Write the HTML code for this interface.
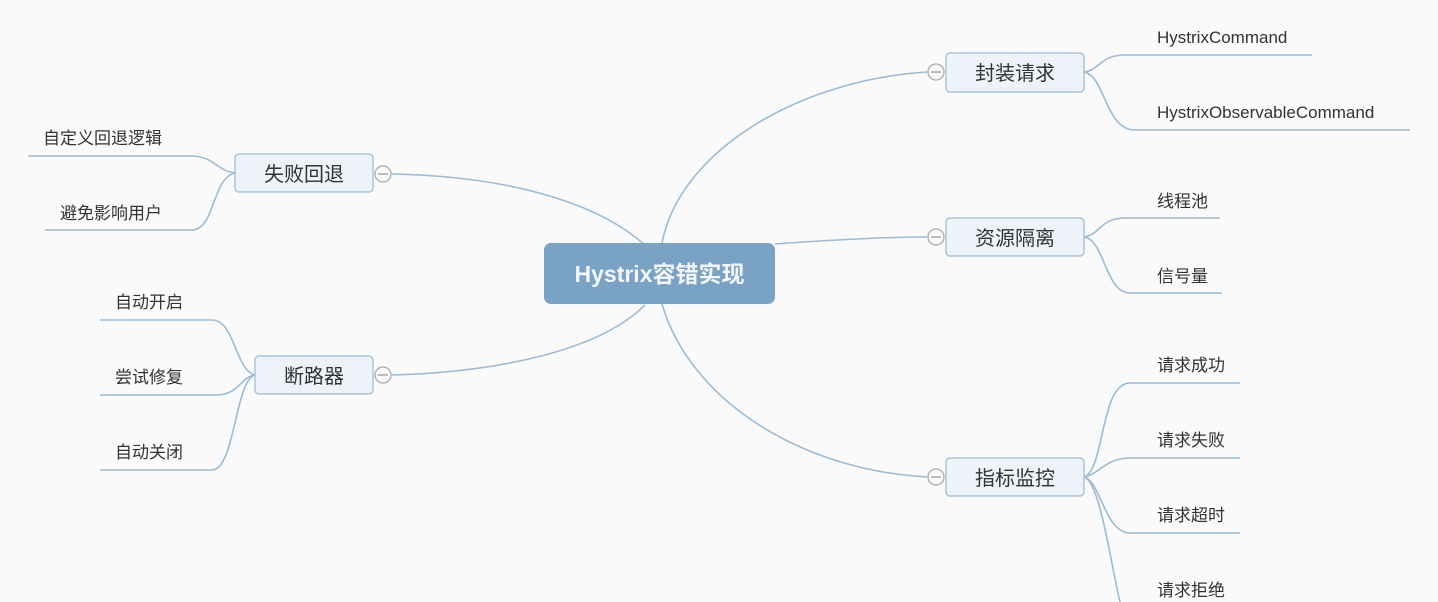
<!DOCTYPE html>
<html><head><meta charset="utf-8"><style>
html,body{margin:0;padding:0;background:#fafafa;}
svg{display:block}
text{font-family:"Liberation Sans","Noto Sans CJK SC",sans-serif;fill:#333}
</style></head><body>
<svg width="1438" height="602" viewBox="0 0 1438 602" xmlns="http://www.w3.org/2000/svg">
<rect width="1438" height="602" fill="#fafafa"/>
<g fill="none" stroke="#9bbbd6" stroke-width="1.6">
<path d="M662 243 C 680 150, 800 80, 927 72"/>
<path d="M775 244 C 830 240, 880 237, 927 237"/>
<path d="M662 304 C 690 400, 800 470, 927 477"/>
<path d="M650 250 C 600 200, 500 176, 392 174"/>
<path d="M645 305 C 600 350, 500 372, 392 375"/>
<path d="M1084 72 C 1100 70, 1100 55, 1125 55 L1312 55"/>
<path d="M1084 72 C 1105 75, 1105 130, 1135 130 L1410 130"/>
<path d="M1084 237 C 1100 235, 1100 218, 1125 218 L1220 218"/>
<path d="M1084 237 C 1105 240, 1105 293, 1130 293 L1222 293"/>
<path d="M1084 477 C 1105 470, 1100 383, 1130 383 L1240 383"/>
<path d="M1084 477 C 1100 474, 1105 458, 1130 458 L1240 458"/>
<path d="M1084 477 C 1100 480, 1105 533, 1130 533 L1240 533"/>
<path d="M1084 477 C 1100 482, 1110 560, 1120 602"/>
<path d="M235 173 C 215 170, 215 156, 190 156 L28 156"/>
<path d="M235 173 C 212 178, 215 230, 192 230 L45 230"/>
<path d="M255 375 C 235 370, 235 320, 212 320 L100 320"/>
<path d="M255 375 C 240 377, 240 395, 215 395 L100 395"/>
<path d="M255 375 C 235 380, 235 470, 212 470 L100 470"/>
</g>
<rect x="544" y="243" width="231" height="61" rx="7" fill="#7aa2c5"/>
<text x="659.5" y="282" font-size="23" font-weight="bold" text-anchor="middle" style="fill:#f2f6fa">Hystrix容错实现</text>
<g fill="#eef3f9" stroke="#a9c4dc" stroke-width="1.5">
<rect x="946" y="53" width="138" height="39" rx="4"/>
<rect x="946" y="218" width="138" height="38" rx="4"/>
<rect x="946" y="458" width="138" height="38" rx="4"/>
<rect x="235" y="154" width="138" height="38" rx="4"/>
<rect x="255" y="356" width="118" height="38" rx="4"/>
</g>
<g font-size="20" text-anchor="middle">
<text x="1015" y="80">封装请求</text>
<text x="1015" y="245">资源隔离</text>
<text x="1015" y="485">指标监控</text>
<text x="304" y="181">失败回退</text>
<text x="314" y="383">断路器</text>
</g>
<g fill="#fafafa" stroke="#aaa" stroke-width="1.3">
<circle cx="936" cy="72" r="8"/><circle cx="936" cy="237" r="8"/><circle cx="936" cy="477" r="8"/>
<circle cx="383" cy="174" r="8"/><circle cx="383" cy="375" r="8"/>
</g>
<g stroke="#999" stroke-width="1.3">
<line x1="931" y1="72" x2="941" y2="72"/><line x1="931" y1="237" x2="941" y2="237"/><line x1="931" y1="477" x2="941" y2="477"/>
<line x1="378" y1="174" x2="388" y2="174"/><line x1="378" y1="375" x2="388" y2="375"/>
</g>
<g font-size="17">
<text x="1157" y="43">HystrixCommand</text>
<text x="1157" y="118">HystrixObservableCommand</text>
<text x="1157" y="207">线程池</text>
<text x="1157" y="282">信号量</text>
<text x="1157" y="371">请求成功</text>
<text x="1157" y="446">请求失败</text>
<text x="1157" y="521">请求超时</text>
<text x="1157" y="596">请求拒绝</text>
<text x="43" y="144">自定义回退逻辑</text>
<text x="60" y="219">避免影响用户</text>
<text x="115" y="308">自动开启</text>
<text x="115" y="383">尝试修复</text>
<text x="115" y="458">自动关闭</text>
</g>
</svg>
</body></html>
